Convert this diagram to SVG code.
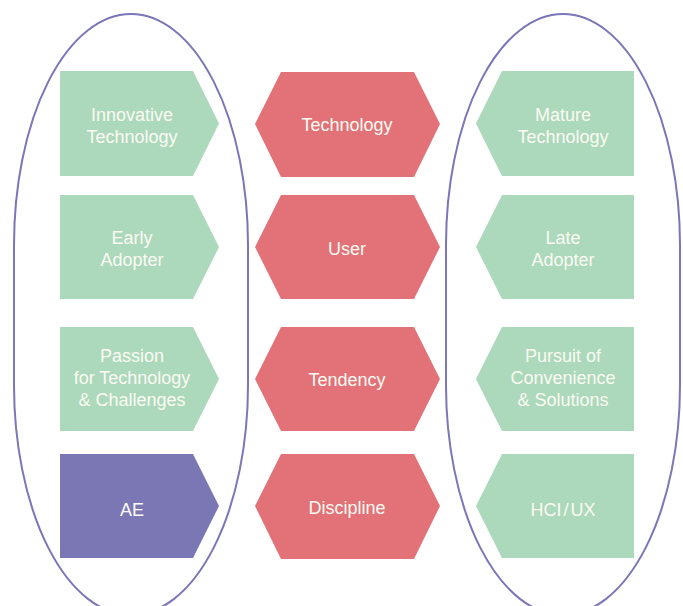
<svg xmlns="http://www.w3.org/2000/svg" width="683" height="606" viewBox="0 0 683 606">
<style>
.g{fill:#acd8bb}
.r{fill:#e27277}
.p{fill:#7b77b5}
.o{fill:none;stroke:#7b76b8;stroke-width:2}
text{font-family:"Liberation Sans",Arial,sans-serif;font-size:18px;fill:#fbfbf3;text-anchor:middle}
</style>
<rect width="683" height="606" fill="#ffffff"/>
<g id="groups">
<path id="left-group" class="o" d="M131,14 A117,231 0 0 1 248,245 L248,385 A117,230 0 0 1 131,615 A117,230 0 0 1 14,385 L14,245 A117,231 0 0 1 131,14 Z"/>
<path id="right-group" class="o" d="M563,14 A117,231 0 0 1 680,245 L680,385 A117,230 0 0 1 563,615 A117,230 0 0 1 446,385 L446,245 A117,231 0 0 1 563,14 Z"/>
</g>
<g id="connectors"></g>
<g id="n-innovative"><polygon class="g" points="60,71 193,71 219,123.5 193,176 60,176"/><text x="132" y="121">Innovative</text><text x="132" y="143">Technology</text></g>
<g id="n-early"><polygon class="g" points="60,195 193,195 219,247 193,299 60,299"/><text x="132" y="244">Early</text><text x="132" y="266">Adopter</text></g>
<g id="n-passion"><polygon class="g" points="60,327 193,327 219,379 193,431 60,431"/><text x="132" y="362">Passion</text><text x="132" y="384">for Technology</text><text x="132" y="406">&amp; Challenges</text></g>
<g id="n-ae"><polygon class="p" points="60,454 193,454 219,506 193,558 60,558"/><text x="132" y="516">AE</text></g>
<g id="n-technology"><polygon class="r" points="255,124 281,72 414,72 440,124 414,177 281,177"/><text x="347" y="131">Technology</text></g>
<g id="n-user"><polygon class="r" points="255,247 281,195 414,195 440,247 414,299 281,299"/><text x="347" y="255">User</text></g>
<g id="n-tendency"><polygon class="r" points="255,379 281,327 414,327 440,379 414,431 281,431"/><text x="347" y="386">Tendency</text></g>
<g id="n-discipline"><polygon class="r" points="255,506 281,454 414,454 440,506 414,559 281,559"/><text x="347" y="514">Discipline</text></g>
<g id="n-mature"><polygon class="g" points="634,71 502,71 476,123.5 502,176 634,176"/><text x="563" y="121">Mature</text><text x="563" y="143">Technology</text></g>
<g id="n-late"><polygon class="g" points="634,195 502,195 476,247 502,299 634,299"/><text x="563" y="244">Late</text><text x="563" y="266">Adopter</text></g>
<g id="n-pursuit"><polygon class="g" points="634,327 502,327 476,379 502,431 634,431"/><text x="563" y="362">Pursuit of</text><text x="563" y="384">Convenience</text><text x="563" y="406">&amp; Solutions</text></g>
<g id="n-hciux"><polygon class="g" points="634,454 502,454 476,506 502,558 634,558"/><text x="563" y="516">HCI<tspan dx="2">/</tspan><tspan dx="2">UX</tspan></text></g>
</svg>
